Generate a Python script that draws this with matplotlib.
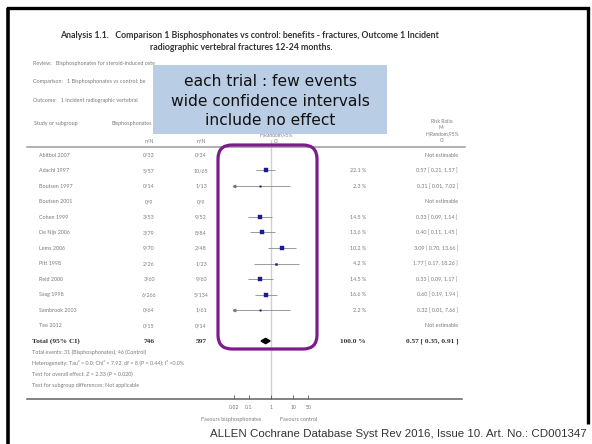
import math
import matplotlib
matplotlib.use("Agg")
import matplotlib.pyplot as plt
from matplotlib.patches import FancyBboxPatch, Rectangle, Polygon

# ---- data -------------------------------------------------------------
studies = ["Abitbol 2007", "Adachi 1997", "Boutsen 1997", "Boutsen 2001",
           "Cohen 1999", "De Nijs 2006", "Lems 2006", "Pitt 1998",
           "Reid 2000", "Saag 1998", "Sambrook 2003", "Tee 2012"]
bis_events = [0, 5, 0, 0, 3, 3, 9, 2, 3, 6, 0, 0]
bis_total = [33, 57, 14, 9, 53, 79, 70, 26, 60, 266, 64, 15]
ctl_events = [0, 10, 1, 0, 9, 8, 2, 1, 9, 5, 1, 0]
ctl_total = [34, 65, 13, 9, 52, 84, 48, 23, 60, 134, 61, 14]
risk_ratio = [None, 0.57, 0.31, None, 0.33, 0.40, 3.09, 1.77, 0.33, 0.60, 0.32, None]
ci_low = [None, 0.21, 0.01, None, 0.09, 0.11, 0.70, 0.17, 0.09, 0.19, 0.01, None]
ci_high = [None, 1.57, 7.02, None, 1.14, 1.45, 13.66, 18.26, 1.17, 1.94, 7.66, None]
weights = [None, 22.1, 2.3, None, 14.5, 13.6, 10.2, 4.2, 14.5, 16.6, 2.2, None]
total_rr, total_low, total_high = 0.57, 0.35, 0.91
axis_ticks = [0.02, 0.1, 1, 10, 50]
tick_labels = ["0.02", "0.1", "1", "10", "50"]

W, H = 592, 444
fig = plt.figure(figsize=(W / 100, H / 100), dpi=100)
fig.patch.set_facecolor("white")

# row layout in pixels
ROW0, ROWSTEP = 155.0, 15.5
def row_y(i):
    return ROW0 + i * ROWSTEP

# ---- forest panel (log risk-ratio scale) --------------------------------
x_one, px_dec = 271.0, 22.0
left_px = x_one + px_dec * math.log10(axis_ticks[0])
right_px = x_one + px_dec * math.log10(axis_ticks[-1])
top_px, bot_px = 140.0, 399.0
ax = fig.add_axes([left_px / W, 1 - bot_px / H, (right_px - left_px) / W, (bot_px - top_px) / H])
ax.set_xscale("log")
ax.set_xlim(axis_ticks[0], axis_ticks[-1])
ax.set_ylim((bot_px - ROW0) / ROWSTEP, (top_px - ROW0) / ROWSTEP)
for s in ax.spines.values():
    s.set_visible(False)
ax.patch.set_alpha(0)
ax.axvline(1, color="#d0d0d0", lw=1.0, zorder=1)

for i in range(len(studies)):
    if risk_ratio[i] is None:
        continue
    lo = max(ci_low[i], axis_ticks[0])
    hi = min(ci_high[i], axis_ticks[-1])
    ax.plot([lo, hi], [i, i], color="#8a8a8a", lw=0.6, zorder=2, solid_capstyle="butt")
    if ci_low[i] < axis_ticks[0]:
        ax.plot([axis_ticks[0]], [i], marker="<", ms=1.8, color="#777777", zorder=3, clip_on=False)
    ax.plot([risk_ratio[i]], [i], marker="s", ms=0.7 * weights[i] ** 0.5,
            color="#1c1c90", mec="#1c1c90", mew=0.3, zorder=4)

ti = len(studies)
ax.add_patch(Polygon([(total_low, ti), (total_rr, ti - 0.17), (total_high, ti),
                      (total_rr, ti + 0.17)], closed=True, color="black", zorder=4))

ax.set_xticks(axis_ticks)
ax.set_xticklabels(tick_labels)
ax.xaxis.set_minor_locator(matplotlib.ticker.NullLocator())
ax.tick_params(axis="x", direction="in", length=3, width=0.6, color="#555555",
               labelsize=3.4, labelcolor="#6f6f6f", pad=4)
ax.set_yticks([])

# ---- table, titles and annotations (pixel overlay) ----------------------
ov = fig.add_axes([0, 0, 1, 1])
ov.set_xlim(0, W)
ov.set_ylim(H, 0)
ov.axis("off")
ov.patch.set_alpha(0)
ov.set_zorder(3)

grey = "#7a7a7a"
small = dict(family="Lato", fontsize=3.9, color=grey, va="center")
tiny = dict(family="Lato", fontsize=3.5, color=grey, va="center")

# slide frame
ov.plot([8, 8], [8, H], color="black", lw=2.6, solid_capstyle="butt")
ov.plot([8, 588], [8.5, 8.5], color="black", lw=2.4, solid_capstyle="projecting")
ov.plot([588, 588], [8, 424], color="black", lw=2.4, solid_capstyle="butt")

ov.text(249, 35, "Analysis 1.1.   Comparison 1 Bisphosphonates vs control: benefits - fractures, Outcome 1 Incident",
        family="Lato", fontweight="bold", fontsize=6.3, color="#333333", ha="center", va="center")
ov.text(241, 47, "radiographic vertebral fractures 12-24 months.",
        family="Lato", fontweight="bold", fontsize=6.3, color="#333333", ha="center", va="center")

# review details run in under the callout box; cut them at its left edge
box_left = 153
cut = Rectangle((0, 0), box_left, H, transform=ov.transData)
for ly, txt in ((63, "Review:   Bisphosphonates for steroid-induced oste"),
                (82, "Comparison:   1 Bisphosphonates vs control: be"),
                (100, "Outcome:   1 Incident radiographic vertebral")):
    t = ov.text(33, ly, txt, **small)
    t.set_clip_path(cut)

ov.text(34, 123, "Study or subgroup", **small)
t = ov.text(112, 123, "Bisphosphonates", **small)
t.set_clip_path(cut)
ov.text(149, 141, "n/N", ha="center", **small)
ov.text(201, 141, "n/N", ha="center", **small)
# middle column header: only its lower lines sit below the callout box
ov.text(276, 135, "H,Random,95%", ha="center", **tiny)
ov.text(276, 141, "CI", ha="center", **tiny)
for ly, txt in zip((121, 127.5, 134, 140.5), ("Risk Ratio", "M-", "H,Random,95%", "CI")):
    ov.text(442, ly, txt, ha="center", **tiny)

ov.plot([27, 465], [147, 147], color="#9a9a9a", lw=1.1)
ov.plot([27, 462], [399, 399], color="#606060", lw=1.1)

for i, name in enumerate(studies):
    y = row_y(i)
    ov.text(39, y, name, **small)
    ov.text(149, y, f"{bis_events[i]}/{bis_total[i]}", ha="center", **small)
    ov.text(201, y, f"{ctl_events[i]}/{ctl_total[i]}", ha="center", **small)
    if risk_ratio[i] is None:
        ov.text(458, y, "Not estimable", ha="right", **small)
    else:
        ov.text(366, y, f"{weights[i]:.1f} %", ha="right", **small)
        ov.text(458, y, f"{risk_ratio[i]:.2f} [ {ci_low[i]:.2f}, {ci_high[i]:.2f} ]", ha="right", **small)

bold_serif = dict(family="Liberation Serif", fontweight="bold", fontsize=5.3, color="#333333", va="center")
yt = row_y(ti)
ov.text(32, yt, "Total (95% CI)", **bold_serif)
ov.text(149, yt, f"{sum(bis_total)}", ha="center", **bold_serif)
ov.text(201, yt, f"{sum(ctl_total)}", ha="center", **bold_serif)
ov.text(366, yt, "100.0 %", ha="right", **bold_serif)
ov.text(458, yt, f"{total_rr:.2f} [ {total_low:.2f}, {total_high:.2f} ]", ha="right", **bold_serif)

footer = [
    f"Total events: {sum(bis_events)} (Bisphosphonates), {sum(ctl_events)} (Control)",
    "Heterogeneity: Tau² = 0.0; Chi² = 7.92, df = 8 (P = 0.44); I² =0.0%",
    "Test for overall effect: Z = 2.33 (P = 0.020)",
    "Test for subgroup differences: Not applicable",
]
for k, line in enumerate(footer):
    ov.text(32, 352 + 11 * k, line, **small)

ov.text(231, 419, "Favours bisphosphonates", ha="center", **small)
ov.text(299, 419, "Favours control", ha="center", **small)

# callout box and highlight
ov.add_patch(Rectangle((box_left, 65), 234, 69, facecolor="#b9cde5", edgecolor="none", zorder=5))
for ly, txt in zip((82, 101, 120), ("each trial : few events", "wide confidence intervals", "include no effect")):
    ov.text(270, ly, txt, family="DejaVu Sans", fontsize=11.2, color="#111111",
            ha="center", va="center", zorder=6)
ov.add_patch(FancyBboxPatch((218, 145), 99, 204, boxstyle="round,pad=0,rounding_size=14",
                            facecolor="none", edgecolor="#7d1a8c", lw=2.3, zorder=5))

ov.text(587, 434, "ALLEN Cochrane Database Syst Rev 2016, Issue 10. Art. No.: CD001347",
        family="Liberation Sans", fontsize=8.25, color="#333333", ha="right", va="center")

fig.savefig("out.png", dpi=100)
